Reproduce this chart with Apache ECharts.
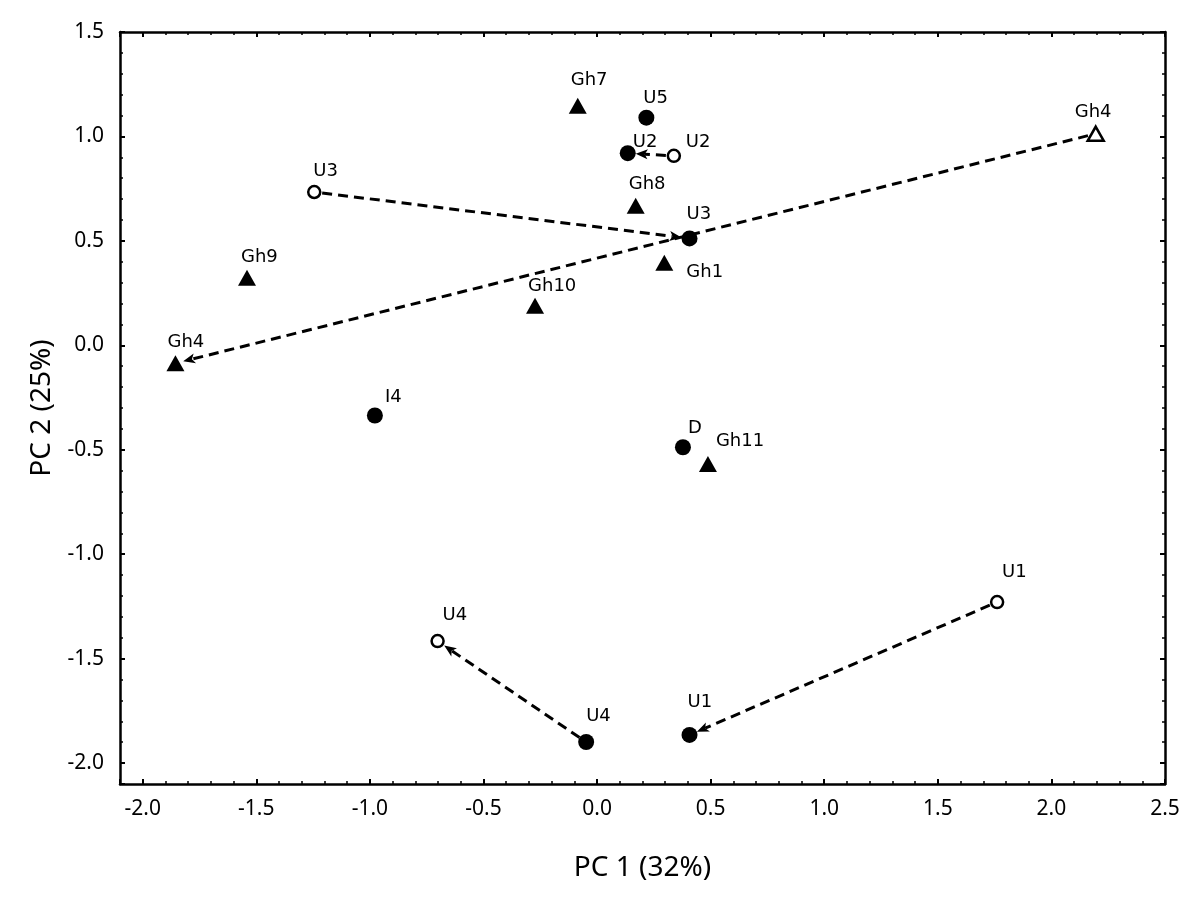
<!DOCTYPE html>
<html>
<head>
<meta charset="utf-8">
<script src="https://cdn.jsdelivr.net/npm/echarts@6/dist/echarts.min.js"></script>
<style>
html,body{margin:0;padding:0;background:#fff;}
#chart{width:1200px;height:905px;}
</style>
</head>
<body>
<div id="chart"></div>
<script>
// ---- data ----
const pointNames = ['Gh7','U5','U2','U2','Gh4','U3','Gh8','U3','Gh1','Gh9','Gh10','Gh4','I4','D','Gh11','U1','U4','U4','U1'];
const pc1Values  = [-0.085,0.217,0.135,0.338,2.195,-1.245,0.170,0.407,0.296,-1.541,-0.273,-1.856,-0.978,0.378,0.488,1.761,-0.702,-0.048,0.407];
const pc2Values  = [1.147,1.090,0.920,0.907,1.013,0.734,0.668,0.512,0.395,0.324,0.189,-0.086,-0.336,-0.488,-0.568,-1.229,-1.416,-1.899,-1.865];
const markerKind = ['triangle','circle','circle','openCircle','openTriangle','openCircle','triangle','circle','triangle','triangle','triangle','triangle','circle','circle','triangle','openCircle','openCircle','circle','circle'];
// arrows: [from point index, to point index]
const arrowFrom = [5, 4, 3, 15, 17];
const arrowTo   = [7, 11, 2, 18, 16];
const xAxisTitle = 'PC 1 (32%)';
const yAxisTitle = 'PC 2 (25%)';

// ---- layout (label placement relative to marker centre, px) ----
const labelPlacement = [
  [-7,-25],[-3,-19],[5,-11],[12,-14],[-21,-21],[-1,-21],[-7,-21],[-3,-24],[22,10],
  [-6,-20],[-7,-20],[-8,-21],[10,-18],[5,-19],[8,-23],[5,-30],[5,-26],[0,-26],[-2,-33]
];

const markerStyles = {
  circle:       {symbol:'circle',   size:16, fill:'#000', stroke:'#000', lw:0},
  openCircle:   {symbol:'circle',   size:12, fill:'#fff', stroke:'#000', lw:2.5},
  triangle:     {symbol:'triangle', size:[18,16], fill:'#000', stroke:'#000', lw:0},
  openTriangle: {symbol:'triangle', size:[16,14], fill:'#fff', stroke:'#000', lw:2.5}
};

const scatterSeries = Object.keys(markerStyles).map(kind => {
  const st = markerStyles[kind];
  const data = [];
  pointNames.forEach((n, i) => {
    if (markerKind[i] !== kind) return;
    data.push({
      name: n,
      value: [pc1Values[i], pc2Values[i]],
      label: {offset: labelPlacement[i]}
    });
  });
  return {
    type: 'scatter',
    name: kind,
    z: 5,
    symbol: st.symbol,
    symbolSize: st.size,
    itemStyle: {color: st.fill, borderColor: st.stroke, borderWidth: st.lw, opacity: 1},
    label: {
      show: true, position: 'inside', align: 'left', verticalAlign: 'middle',
      formatter: p => p.name, color: '#000',
      fontFamily: 'DejaVu Sans', fontSize: 18
    },
    emphasis: {disabled: true},
    data
  };
});

const arrowData = arrowFrom.map((f, k) => {
  const t = arrowTo[k];
  return [pc1Values[f], pc2Values[f], pc1Values[t], pc2Values[t]];
});

const arrowSeries = {
  type: 'custom',
  z: 3,
  silent: true,
  encode: {x: [0, 2], y: [1, 3]},
  data: arrowData,
  renderItem: (params, api) => {
    const p1 = api.coord([api.value(0), api.value(1)]);
    const p2 = api.coord([api.value(2), api.value(3)]);
    const dx = p2[0] - p1[0], dy = p2[1] - p1[1];
    const len = Math.hypot(dx, dy);
    const ux = dx / len, uy = dy / len;
    const startGap = 8, endGap = 8;
    const s = [p1[0] + ux * startGap, p1[1] + uy * startGap];
    const e = [p2[0] - ux * endGap, p2[1] - uy * endGap];
    const headLen = 12, headW = 5, notch = 3;
    const base = [e[0] - ux * headLen, e[1] - uy * headLen];
    const left = [base[0] - uy * headW, base[1] + ux * headW];
    const right = [base[0] + uy * headW, base[1] - ux * headW];
    const inner = [base[0] + ux * notch, base[1] + uy * notch];
    return {
      type: 'group',
      children: [
        {type: 'line', shape: {x1: s[0], y1: s[1], x2: inner[0], y2: inner[1]},
         style: {stroke: '#000', lineWidth: 3, lineDash: [10, 6], fill: null}},
        {type: 'polygon', shape: {points: [e, left, inner, right]}, style: {fill: '#000'}}
      ]
    };
  }
};

const tickFmt = v => Math.abs(v * 2 - Math.round(v * 2)) < 1e-6 ? v.toFixed(1) : '';
const axisLineStyle = {show: true, onZero: false, lineStyle: {color: '#000', width: 2.5}};
const tickStyle = {show: true, inside: true, length: 5, lineStyle: {color: '#000', width: 2}};
const minorStyle = {show: true, splitNumber: 5, length: 3, lineStyle: {color: '#000', width: 1.5}};
const labelFont = {color: '#000', fontFamily: 'Noto Sans', fontSize: 21};

const xRange = [-2.1, 2.5];
const yRange = [-2.1, 1.5];

const chart = echarts.init(document.getElementById('chart'), null, {renderer: 'canvas'});
chart.setOption({
  animation: false,
  backgroundColor: '#fff',
  grid: {left: 120, right: 35, top: 32, bottom: 121, containLabel: false},
  xAxis: [
    {type: 'value', position: 'bottom', min: xRange[0], max: xRange[1], splitNumber: 9,
     name: xAxisTitle, nameLocation: 'middle', nameGap: 70,
     nameTextStyle: {color: '#000', fontFamily: 'Noto Sans', fontSize: 28},
     axisLine: axisLineStyle, axisTick: tickStyle, minorTick: minorStyle,
     axisLabel: Object.assign({margin: 15, formatter: tickFmt, showMinLabel: false}, labelFont),
     splitLine: {show: false}},
    {type: 'value', position: 'top', min: xRange[0], max: xRange[1], splitNumber: 9,
     axisLine: axisLineStyle, axisTick: tickStyle, minorTick: minorStyle,
     axisLabel: {show: false}, splitLine: {show: false}}
  ],
  yAxis: [
    {type: 'value', position: 'left', min: yRange[0], max: yRange[1], splitNumber: 7,
     name: yAxisTitle, nameLocation: 'middle', nameGap: 64,
     nameTextStyle: {color: '#000', fontFamily: 'Noto Sans', fontSize: 28},
     axisLine: axisLineStyle, axisTick: tickStyle, minorTick: minorStyle,
     axisLabel: Object.assign({margin: 16, formatter: tickFmt, showMinLabel: false}, labelFont),
     splitLine: {show: false}},
    {type: 'value', position: 'right', min: yRange[0], max: yRange[1], splitNumber: 7,
     axisLine: axisLineStyle, axisTick: tickStyle, minorTick: minorStyle,
     axisLabel: {show: false}, splitLine: {show: false}}
  ],
  series: [arrowSeries].concat(scatterSeries)
});
</script>
</body>
</html>
